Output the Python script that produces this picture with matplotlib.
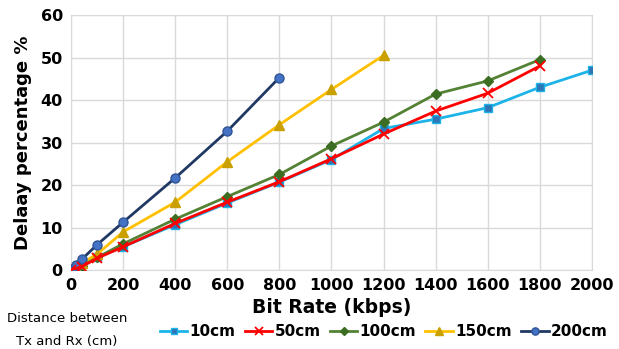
import matplotlib.pyplot as plt
import numpy as np

# bit rate (kbps) per series and delay percentage
x_10 = [0, 100, 200, 400, 600, 800, 1000, 1200, 1400, 1600, 1800, 2000]
y_10 = [0, 3.0, 5.5, 10.7, 15.8, 20.7, 26.0, 33.3, 35.5, 38.2, 43.0, 47.0]

x_50 = [0, 40, 100, 200, 400, 600, 800, 1000, 1200, 1400, 1600, 1800]
y_50 = [0, 0.8, 2.8, 5.5, 11.0, 16.0, 20.8, 26.2, 32.0, 37.4, 41.6, 48.0]

x_100 = [0, 10, 40, 100, 200, 400, 600, 800, 1000, 1200, 1400, 1600, 1800]
y_100 = [0, 0.3, 1.0, 3.0, 6.2, 12.0, 17.3, 22.5, 29.2, 34.8, 41.4, 44.5, 49.5]

x_150 = [0, 10, 40, 100, 200, 400, 600, 800, 1000, 1200]
y_150 = [0, 0.5, 1.6, 3.8, 9.0, 16.0, 25.5, 34.2, 42.5, 50.5]

x_200 = [0, 10, 20, 40, 100, 200, 400, 600, 800]
y_200 = [0, 0.6, 1.2, 2.5, 6.0, 11.3, 21.7, 32.7, 45.3]

fig = plt.figure(figsize=(6.19, 3.49), dpi=100)
ax = fig.add_axes([0.115, 0.226, 0.841, 0.731])

ax.plot(x_10, y_10, color='#1CB4E8', lw=2, marker='s', ms=5.5,
        mfc='#2E75B6', mec='#1CB4E8', label='10cm', zorder=3)
ax.plot(x_50, y_50, color='#FF0000', lw=2, marker='x', ms=7,
        mew=1.3, label='50cm', zorder=4)
ax.plot(x_100, y_100, color='#548235', lw=2, marker='D', ms=5,
        mfc='#3B6E22', mec='#3B6E22', label='100cm', zorder=3)
ax.plot(x_150, y_150, color='#FFC000', lw=2, marker='^', ms=7,
        mfc='#C9A000', mec='#C9A000', label='150cm', zorder=3)
ax.plot(x_200, y_200, color='#203864', lw=2, marker='o', ms=6.5,
        mfc='#4472C4', mec='#2F5597', label='200cm', zorder=3)

ax.set_xlim(0, 2000)
ax.set_ylim(0, 60)
ax.set_xticks(np.arange(0, 2001, 200))
ax.set_yticks(np.arange(0, 61, 10))
ax.grid(True, color='#D9D9D9', lw=1)
ax.set_axisbelow(True)
for s in ax.spines.values():
    s.set_color('#D9D9D9')
ax.tick_params(length=0, labelsize=11.5, pad=6)
for lab in ax.get_xticklabels() + ax.get_yticklabels():
    lab.set_fontweight('bold')

ax.set_xlabel('Bit Rate (kbps)', fontsize=13.5, fontweight='bold', labelpad=3)
ax.set_ylabel('Delaay percentage %', fontsize=13, fontweight='bold', labelpad=6)

fig.text(0.108, 0.055, 'Distance between\nTx and Rx (cm)', fontsize=9.5,
         ha='center', va='center', linespacing=2.0)
fig.legend(loc='center', bbox_to_anchor=(0.62, 0.05), ncol=5, frameon=False,
           prop={'weight': 'bold', 'size': 11}, handlelength=1.8,
           handletextpad=0.15, columnspacing=0.6, markerscale=0.8)

fig.savefig('out.png', dpi=100)
